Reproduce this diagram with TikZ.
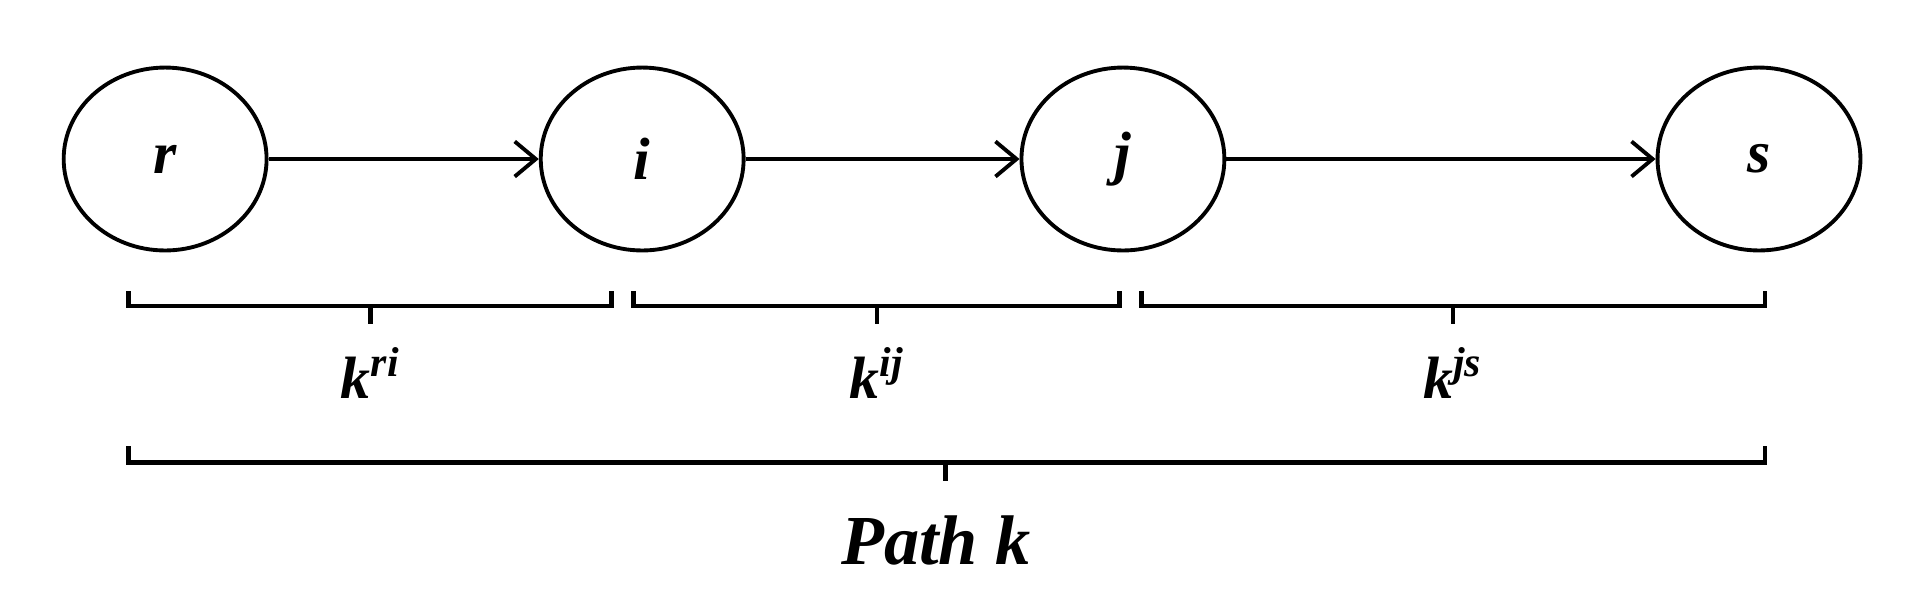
\documentclass[tikz,border=0pt]{standalone}
\usepackage{fontspec}
\setmainfont{Liberation Serif}
\usetikzlibrary{shapes.geometric,arrows.meta}
\begin{document}
\begin{tikzpicture}[x=0.012232cm, y=-0.012232cm, font=\bfseries\itshape\fontsize{17}{20}\selectfont,
    state/.style={draw, ellipse, line width=1.1pt, minimum width=2.03cm, minimum height=1.83cm, inner sep=0pt},
    link/.style={-{Straight Barb[length=6pt,width=10pt]}, line width=1.1pt},
    brace/.style={line width=1.3pt}]
        \useasboundingbox (0,0) rectangle (1568,501);
        \node[state] (r) at (135,130) {r};
        \node[state] (i) at (525,130) {i};
        \node[state] (j) at (918,130) {j};
        \node[state] (s) at (1438,130) {s};
        \draw[link] (r) -- (i);
        \draw[link] (i) -- (j);
        \draw[link] (j) -- (s);
        % braces under the links
        \draw[brace] (105,238) -- (105,250) -- (500,250) -- (500,238) (303,250) -- (303,265);
        \draw[brace] (518,238) -- (518,250) -- (915,250) -- (915,238) (717,250) -- (717,265);
        \draw[brace] (933,238) -- (933,250) -- (1443,250) -- (1443,238) (1188,250) -- (1188,265);
        \draw[brace] (105,365) -- (105,378) -- (1443,378) -- (1443,365) (773,378) -- (773,393);
        \node (kri) at (303,305) {k\textsuperscript{ri}};
        \node (kij) at (717,305) {k\textsuperscript{ij}};
        \node (kjs) at (1188,305) {k\textsuperscript{js}};
        \node (path) at (765,442) {\fontsize{20}{24}\selectfont Path k};
\end{tikzpicture}
\end{document}
